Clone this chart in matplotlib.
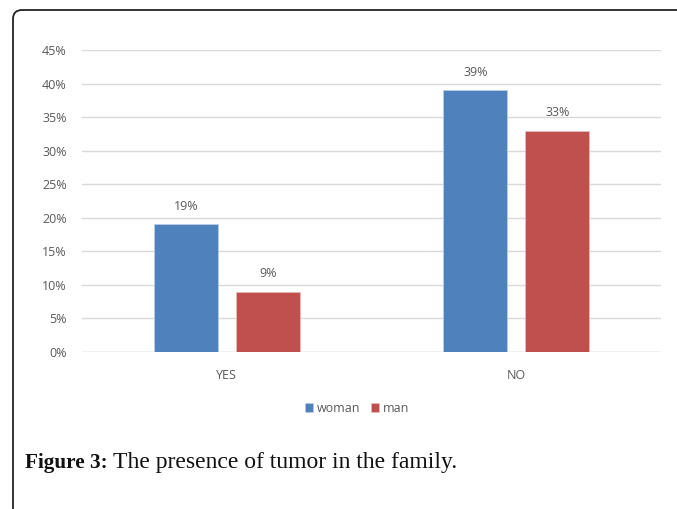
import matplotlib
matplotlib.use('Agg')
import matplotlib.pyplot as plt
from matplotlib.patches import FancyBboxPatch
import numpy as np

categories = ['YES', 'NO']
woman = [19, 39]
man = [9, 33]
series_names = ['woman', 'man']
yticks = [0, 5, 10, 15, 20, 25, 30, 35, 40, 45]

BLUE = '#4F81BD'
RED = '#C0504D'
GRID = '#D9D9D9'
TEXT = '#595959'
FS = 9

W, H = 677, 509
fig = plt.figure(figsize=(W / 100, H / 100), dpi=100)
plt.rcParams['font.family'] = ['Open Sans', 'DejaVu Sans']

# outer rounded frame in pixel coords (runs off the right and bottom edge)
frame = FancyBboxPatch((13, -30), W + 30, H - 10 + 30,
                       boxstyle='round,pad=0,rounding_size=9',
                       transform=None, fill=False,
                       edgecolor='#222222', linewidth=1.3)
fig.patches.append(frame)

ax = fig.add_axes([82 / W, 1 - 352 / H, (661 - 82) / W, (352 - 50) / H])

x = np.arange(len(categories))
bw = 0.221
off = 0.1416
b1 = ax.bar(x - off, woman, bw, color=BLUE, edgecolor='#B9CDE5', linewidth=0.6, zorder=3, label=series_names[0])
b2 = ax.bar(x + off, man, bw, color=RED, edgecolor='#E6B9B8', linewidth=0.6, zorder=3, label=series_names[1])

for bars, vals in ((b1, woman), (b2, man)):
    for r, v in zip(bars, vals):
        ax.annotate('{}%'.format(v), (r.get_x() + r.get_width() / 2, v),
                    xytext=(0, 8), textcoords='offset points', ha='center', va='bottom',
                    fontsize=FS, color=TEXT)

ax.set_xlim(-0.5, 1.5)
ax.set_ylim(0, 45)
ax.set_yticks(yticks)
ax.set_yticklabels(['{}%'.format(t) for t in yticks], fontsize=FS, color=TEXT)
ax.set_xticks(x)
ax.set_xticklabels(categories, fontsize=FS, color=TEXT)
ax.tick_params(axis='both', length=0)
ax.tick_params(axis='y', pad=11)
ax.tick_params(axis='x', pad=12)
ax.grid(axis='y', color=GRID, linewidth=1, zorder=0)
for s in ax.spines.values():
    s.set_visible(False)
ax.axhline(0, color=GRID, linewidth=1, zorder=2)

fig.legend(loc='center', bbox_to_anchor=(357 / W, 1 - 408 / H), ncol=2, frameon=False,
           fontsize=FS, handlelength=0.7, handleheight=0.7, handletextpad=0.3,
           columnspacing=0.8, labelcolor=TEXT)

t1 = fig.text(25 / W, 1 - 462 / H, 'Figure 3:', fontsize=15.3, fontweight='bold',
              family='Liberation Serif', va='baseline', ha='left', color='#111111')
t1.set_y(1 - 468 / H)
fig.canvas.draw()
bb = t1.get_window_extent()
fig.text((bb.x1 + 5) / W, 1 - 468 / H, 'The presence of tumor in the family.', fontsize=17,
         family='Liberation Serif', va='baseline', ha='left', color='#111111')

fig.savefig('out.png', dpi=100)
